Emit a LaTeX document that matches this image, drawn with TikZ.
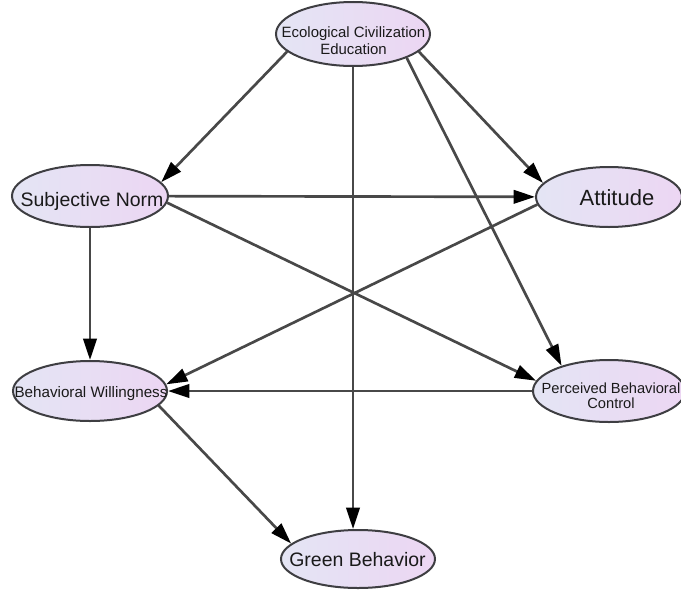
\documentclass[tikz,border=0pt]{standalone}
\usepackage{fontspec}
\setmainfont{Liberation Sans}
\usetikzlibrary{arrows.meta,shapes.geometric}
\definecolor{ellL}{RGB}{228,229,244}
\definecolor{ellR}{RGB}{236,214,243}
\definecolor{ellB}{RGB}{62,62,66}
\definecolor{lineC}{RGB}{72,72,72}
\definecolor{txtC}{RGB}{26,26,26}
\begin{document}
\begin{tikzpicture}[x=0.75pt,y=-0.75pt,
  ell/.style={ellipse, draw=ellB, line width=1.5pt, left color=ellL, right color=ellR, inner sep=0pt},
  lbl/.style={inner sep=0pt, text=txtC, align=center},
  conn/.style={draw=lineC, line width=2pt, -{Triangle[length=16pt,width=10pt,color=black]}}
]
\useasboundingbox (0,0) rectangle (681,589);
\fill[white] (0,0) rectangle (681,589);
\clip (0,0) rectangle (681,589);

\node[ell, minimum width=115.5pt, minimum height=48pt] (eco) at (353,34) {};
\node[ell, minimum width=117pt, minimum height=46.5pt] (sn) at (90,196) {};
\node[ell, minimum width=109.5pt, minimum height=45pt] (att) at (609,197) {};
\node[ell, minimum width=115.5pt, minimum height=45pt] (bw) at (90,391) {};
\node[ell, minimum width=114pt, minimum height=46.5pt] (pbc) at (609,391) {};
\node[ell, minimum width=115.5pt, minimum height=43.5pt] (gb) at (358,559) {};

\draw[conn] (eco.195) -- (sn.11);
\draw[conn] (eco.345) -- (att.168);
\draw[conn] (eco.336) -- (pbc.152);
\draw[conn] (eco.south) -- (eco.south |- gb.north);
\draw[conn] (sn) -- (att);
\draw[conn] (sn.355) -- (pbc.172);
\draw[conn] (sn) -- (bw);
\draw[conn] (att.186) -- (bw.5);
\draw[conn] (pbc) -- (bw);
\draw[conn] (bw.348) -- (gb.167);

\node[lbl, font=\fontsize{11.2pt}{12.75pt}\selectfont, anchor=north] (ecoT) at (353.5,26) {Ecological Civilization\\Education};
\node[lbl, font=\fontsize{14.6pt}{18pt}\selectfont, anchor=base] (snT) at (92,206) {Subjective Norm};
\node[lbl, font=\fontsize{16.5pt}{20pt}\selectfont, anchor=base] (attT) at (617,205) {Attitude};
\node[lbl, font=\fontsize{11.4pt}{14pt}\selectfont, anchor=base] (bwT) at (91,397) {Behavioral Willingness};
\node[lbl, font=\fontsize{11pt}{11.25pt}\selectfont, anchor=north] (pbcT) at (611,382.5) {Perceived Behavioral\\Control};
\node[lbl, font=\fontsize{14.6pt}{18pt}\selectfont, anchor=base] (gbT) at (357.5,566) {Green Behavior};
\end{tikzpicture}
\end{document}
